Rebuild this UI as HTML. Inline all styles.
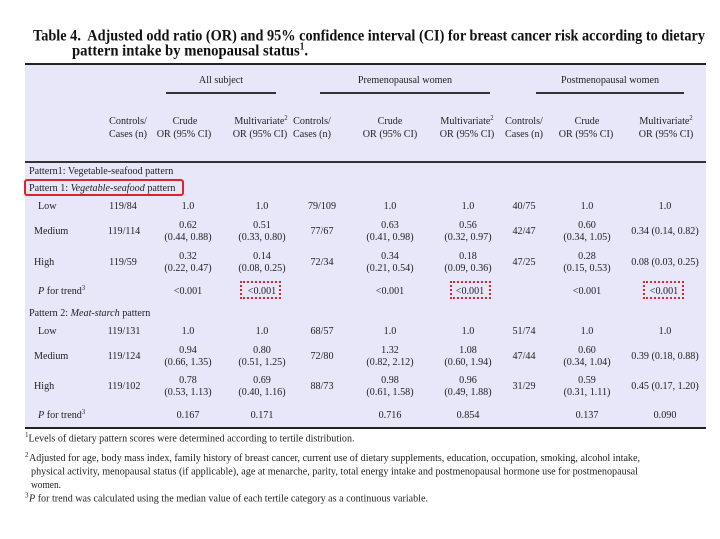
<!DOCTYPE html>
<html>
<head>
<meta charset="utf-8">
<style>
html,body{margin:0;padding:0;background:#fff;}
body{width:720px;height:539px;position:relative;overflow:hidden;}
.bg{position:absolute;left:25px;top:64px;width:681px;height:364px;background:#e7e7f9;}
.rule{position:absolute;background:#222;}
.t{position:absolute;font-family:"Liberation Serif",serif;font-size:11px;line-height:12px;color:#222;white-space:nowrap;}
.c{transform:translateX(-50%) scaleX(.92);}
.l{transform-origin:0 0;transform:scaleX(.92);}
.s{font-size:7px;vertical-align:4px;line-height:0;}
.redbox{position:absolute;left:24px;top:179px;width:156px;height:13px;border:2px solid #d8262b;border-radius:3px;}
.dot{position:absolute;width:37px;height:14px;border:2px dotted #e0262b;top:281px;}
svg{position:absolute;left:0;top:0;}
</style>
</head>
<body>
<div class="bg"></div>
<div class="rule" style="left:25px;top:63px;width:681px;height:2px;"></div>
<div class="rule" style="left:166px;top:92px;width:110px;height:2px;background:#333;"></div>
<div class="rule" style="left:320px;top:92px;width:170px;height:2px;background:#333;"></div>
<div class="rule" style="left:536px;top:92px;width:148px;height:2px;background:#333;"></div>
<div class="rule" style="left:25px;top:161px;width:681px;height:2px;background:#333;"></div>
<div class="rule" style="left:25px;top:427px;width:681px;height:2px;"></div>

<div class="redbox"></div>
<div class="dot" style="left:240px;"></div>
<div class="dot" style="left:450px;"></div>
<div class="dot" style="left:643px;"></div>

<!-- group headers -->
<div class="t c" style="left:221px;top:74px;">All subject</div>
<div class="t c" style="left:405px;top:74px;">Premenopausal women</div>
<div class="t c" style="left:610px;top:74px;">Postmenopausal women</div>

<!-- column headers -->
<div class="t c" style="left:128px;top:115px;">Controls/</div>
<div class="t c" style="left:128px;top:128px;">Cases (n)</div>
<div class="t c" style="left:185px;top:115px;">Crude</div>
<div class="t c" style="left:184px;top:128px;">OR (95% CI)</div>
<div class="t c" style="left:261px;top:115px;">Multivariate<span class="s">2</span></div>
<div class="t c" style="left:260px;top:128px;">OR (95% CI)</div>
<div class="t c" style="left:311.5px;top:115px;">Controls/</div>
<div class="t c" style="left:311.5px;top:128px;">Cases (n)</div>
<div class="t c" style="left:390px;top:115px;">Crude</div>
<div class="t c" style="left:390px;top:128px;">OR (95% CI)</div>
<div class="t c" style="left:467px;top:115px;">Multivariate<span class="s">2</span></div>
<div class="t c" style="left:467px;top:128px;">OR (95% CI)</div>
<div class="t c" style="left:524px;top:115px;">Controls/</div>
<div class="t c" style="left:524px;top:128px;">Cases (n)</div>
<div class="t c" style="left:586.5px;top:115px;">Crude</div>
<div class="t c" style="left:586px;top:128px;">OR (95% CI)</div>
<div class="t c" style="left:666px;top:115px;">Multivariate<span class="s">2</span></div>
<div class="t c" style="left:666px;top:128px;">OR (95% CI)</div>

<!-- Pattern 1 -->
<div class="t l" style="left:29.3px;top:165px;">Pattern1: Vegetable-seafood pattern</div>
<div class="t l" style="left:29.3px;top:181.5px;">Pattern 1: <i>Vegetable-seafood</i> pattern</div>

<!-- Low -->
<div class="t l" style="left:37.7px;top:200px;">Low</div>
<div class="t c" style="left:123px;top:200px;">119/84</div>
<div class="t c" style="left:188px;top:200px;">1.0</div>
<div class="t c" style="left:261.5px;top:200px;">1.0</div>
<div class="t c" style="left:322px;top:200px;">79/109</div>
<div class="t c" style="left:390px;top:200px;">1.0</div>
<div class="t c" style="left:468px;top:200px;">1.0</div>
<div class="t c" style="left:524px;top:200px;">40/75</div>
<div class="t c" style="left:587px;top:200px;">1.0</div>
<div class="t c" style="left:665px;top:200px;">1.0</div>

<!-- Medium -->
<div class="t l" style="left:34.3px;top:224.5px;">Medium</div>
<div class="t c" style="left:124px;top:224.5px;">119/114</div>
<div class="t c" style="left:188px;top:218.5px;">0.62</div>
<div class="t c" style="left:188px;top:230.5px;">(0.44, 0.88)</div>
<div class="t c" style="left:261.5px;top:218.5px;">0.51</div>
<div class="t c" style="left:261.5px;top:230.5px;">(0.33, 0.80)</div>
<div class="t c" style="left:322px;top:224.5px;">77/67</div>
<div class="t c" style="left:390px;top:218.5px;">0.63</div>
<div class="t c" style="left:390px;top:230.5px;">(0.41, 0.98)</div>
<div class="t c" style="left:468px;top:218.5px;">0.56</div>
<div class="t c" style="left:468px;top:230.5px;">(0.32, 0.97)</div>
<div class="t c" style="left:524px;top:224.5px;">42/47</div>
<div class="t c" style="left:587px;top:218.5px;">0.60</div>
<div class="t c" style="left:587px;top:230.5px;">(0.34, 1.05)</div>
<div class="t c" style="left:665px;top:224.5px;">0.34 (0.14, 0.82)</div>

<!-- High -->
<div class="t l" style="left:34.3px;top:255.5px;">High</div>
<div class="t c" style="left:123px;top:255.5px;">119/59</div>
<div class="t c" style="left:188px;top:249.5px;">0.32</div>
<div class="t c" style="left:188px;top:261.5px;">(0.22, 0.47)</div>
<div class="t c" style="left:261.5px;top:249.5px;">0.14</div>
<div class="t c" style="left:261.5px;top:261.5px;">(0.08, 0.25)</div>
<div class="t c" style="left:322px;top:255.5px;">72/34</div>
<div class="t c" style="left:390px;top:249.5px;">0.34</div>
<div class="t c" style="left:390px;top:261.5px;">(0.21, 0.54)</div>
<div class="t c" style="left:468px;top:249.5px;">0.18</div>
<div class="t c" style="left:468px;top:261.5px;">(0.09, 0.36)</div>
<div class="t c" style="left:524px;top:255.5px;">47/25</div>
<div class="t c" style="left:587px;top:249.5px;">0.28</div>
<div class="t c" style="left:587px;top:261.5px;">(0.15, 0.53)</div>
<div class="t c" style="left:665px;top:255.5px;">0.08 (0.03, 0.25)</div>

<!-- P trend 1 -->
<div class="t l" style="left:37.7px;top:285px;"><i>P</i> for trend<span class="s">3</span></div>
<div class="t c" style="left:188px;top:285px;">&lt;0.001</div>
<div class="t c" style="left:261.5px;top:285px;">&lt;0.001</div>
<div class="t c" style="left:390px;top:285px;">&lt;0.001</div>
<div class="t c" style="left:470px;top:285px;">&lt;0.001</div>
<div class="t c" style="left:587px;top:285px;">&lt;0.001</div>
<div class="t c" style="left:664px;top:285px;">&lt;0.001</div>

<!-- Pattern 2 -->
<div class="t l" style="left:29.3px;top:306.5px;">Pattern 2: <i>Meat-starch</i> pattern</div>

<div class="t l" style="left:37.7px;top:325px;">Low</div>
<div class="t c" style="left:124px;top:325px;">119/131</div>
<div class="t c" style="left:188px;top:325px;">1.0</div>
<div class="t c" style="left:261.5px;top:325px;">1.0</div>
<div class="t c" style="left:322px;top:325px;">68/57</div>
<div class="t c" style="left:390px;top:325px;">1.0</div>
<div class="t c" style="left:468px;top:325px;">1.0</div>
<div class="t c" style="left:524px;top:325px;">51/74</div>
<div class="t c" style="left:587px;top:325px;">1.0</div>
<div class="t c" style="left:665px;top:325px;">1.0</div>

<div class="t l" style="left:34.3px;top:350px;">Medium</div>
<div class="t c" style="left:124px;top:350px;">119/124</div>
<div class="t c" style="left:188px;top:343.5px;">0.94</div>
<div class="t c" style="left:188px;top:356px;">(0.66, 1.35)</div>
<div class="t c" style="left:261.5px;top:343.5px;">0.80</div>
<div class="t c" style="left:261.5px;top:356px;">(0.51, 1.25)</div>
<div class="t c" style="left:322px;top:350px;">72/80</div>
<div class="t c" style="left:390px;top:343.5px;">1.32</div>
<div class="t c" style="left:390px;top:356px;">(0.82, 2.12)</div>
<div class="t c" style="left:468px;top:343.5px;">1.08</div>
<div class="t c" style="left:468px;top:356px;">(0.60, 1.94)</div>
<div class="t c" style="left:524px;top:350px;">47/44</div>
<div class="t c" style="left:587px;top:343.5px;">0.60</div>
<div class="t c" style="left:587px;top:356px;">(0.34, 1.04)</div>
<div class="t c" style="left:665px;top:350px;">0.39 (0.18, 0.88)</div>

<div class="t l" style="left:34.3px;top:380px;">High</div>
<div class="t c" style="left:124px;top:380px;">119/102</div>
<div class="t c" style="left:188px;top:374px;">0.78</div>
<div class="t c" style="left:188px;top:386px;">(0.53, 1.13)</div>
<div class="t c" style="left:261.5px;top:374px;">0.69</div>
<div class="t c" style="left:261.5px;top:386px;">(0.40, 1.16)</div>
<div class="t c" style="left:322px;top:380px;">88/73</div>
<div class="t c" style="left:390px;top:374px;">0.98</div>
<div class="t c" style="left:390px;top:386px;">(0.61, 1.58)</div>
<div class="t c" style="left:468px;top:374px;">0.96</div>
<div class="t c" style="left:468px;top:386px;">(0.49, 1.88)</div>
<div class="t c" style="left:524px;top:380px;">31/29</div>
<div class="t c" style="left:587px;top:374px;">0.59</div>
<div class="t c" style="left:587px;top:386px;">(0.31, 1.11)</div>
<div class="t c" style="left:665px;top:380px;">0.45 (0.17, 1.20)</div>

<div class="t l" style="left:37.7px;top:409px;"><i>P</i> for trend<span class="s">3</span></div>
<div class="t c" style="left:188px;top:409px;">0.167</div>
<div class="t c" style="left:261.5px;top:409px;">0.171</div>
<div class="t c" style="left:390px;top:409px;">0.716</div>
<div class="t c" style="left:468px;top:409px;">0.854</div>
<div class="t c" style="left:587px;top:409px;">0.137</div>
<div class="t c" style="left:665px;top:409px;">0.090</div>

<svg width="720" height="539" viewBox="0 0 720 539" xmlns="http://www.w3.org/2000/svg">
  <g font-family="Liberation Serif, serif" font-weight="bold" font-size="16" fill="#111">
    <text x="33" y="40.5" textLength="672" lengthAdjust="spacingAndGlyphs">Table 4.&#160; Adjusted odd ratio (OR) and 95% confidence interval (CI) for breast cancer risk according to dietary</text>
    <text x="72" y="55.7" textLength="236" lengthAdjust="spacingAndGlyphs">pattern intake by menopausal status<tspan font-size="10" dy="-6">1</tspan><tspan dy="6">.</tspan></text>
  </g>
  <g font-family="Liberation Serif, serif" font-size="10.5" fill="#222">
    <text x="25" y="437" font-size="7">1</text>
    <text x="28.5" y="441.5" textLength="326" lengthAdjust="spacingAndGlyphs">Levels of dietary pattern scores were determined according to tertile distribution.</text>
    <text x="25" y="457" font-size="7">2</text>
    <text x="29" y="461" textLength="611" lengthAdjust="spacingAndGlyphs">Adjusted for age, body mass index, family history of breast cancer, current use of dietary supplements, education, occupation, smoking, alcohol intake,</text>
    <text x="31" y="474.5" textLength="607" lengthAdjust="spacingAndGlyphs">physical activity, menopausal status (if applicable), age at menarche, parity, total energy intake and postmenopausal hormone use for postmenopausal</text>
    <text x="31" y="488" textLength="30" lengthAdjust="spacingAndGlyphs">women.</text>
    <text x="25" y="497.5" font-size="7">3</text>
    <text x="29" y="501.5" textLength="399" lengthAdjust="spacingAndGlyphs"><tspan font-style="italic">P</tspan> for trend was calculated using the median value of each tertile category as a continuous variable.</text>
  </g>
</svg>
</body>
</html>
